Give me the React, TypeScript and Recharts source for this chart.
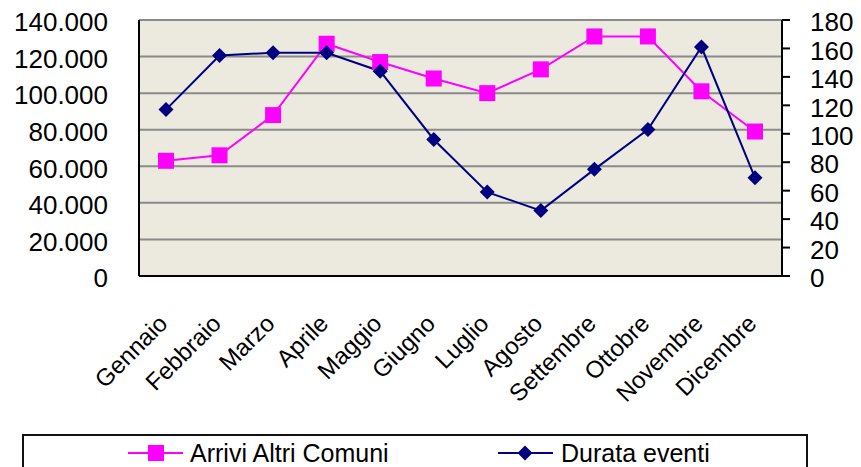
import React from 'react';
import { LineChart, Line, XAxis, YAxis, CartesianGrid, Legend } from 'recharts';

const months = [
  'Gennaio', 'Febbraio', 'Marzo', 'Aprile', 'Maggio', 'Giugno',
  'Luglio', 'Agosto', 'Settembre', 'Ottobre', 'Novembre', 'Dicembre',
];
const arriviAltriComuni = [63000, 66000, 88000, 127000, 117000, 108000, 100000, 113000, 131000, 131000, 101000, 79000];
const durataEventi = [117, 155, 157, 157, 144, 96, 59, 46, 75, 103, 161, 69];
const leftTicks = [0, 20000, 40000, 60000, 80000, 100000, 120000, 140000];
const rightTicks = [0, 20, 40, 60, 80, 100, 120, 140, 160, 180];

const PINK = '#FF00FF';
const NAVY = '#000080';
const FONT = '"Liberation Sans", Arial, sans-serif';

const chartData = months.map((month, i) => ({
  month,
  arrivi: arriviAltriComuni[i],
  durata: durataEventi[i],
}));

// thousands with a dot, as in the Italian original
const formatThousands = (v: number) => String(v).replace(/\B(?=(\d{3})+(?!\d))/g, '.');

const SquareDot = (props: any) => {
  const { cx, cy } = props;
  if (cx == null || cy == null) return null;
  return <rect x={cx - 8} y={cy - 8} width={16} height={16} fill={PINK} />;
};

const DiamondDot = (props: any) => {
  const { cx, cy } = props;
  if (cx == null || cy == null) return null;
  const r = 7.5;
  return <polygon points={`${cx},${cy - r} ${cx + r},${cy} ${cx},${cy + r} ${cx - r},${cy}`} fill={NAVY} />;
};

const ValueTick = (props: any) => {
  const { x, y, payload, textAnchor, formatter } = props;
  return (
    <text x={x} y={y + 2} dy="0.355em" textAnchor={textAnchor} fontSize={26} fontFamily={FONT} fill="#000">
      {formatter ? formatter(payload.value) : payload.value}
    </text>
  );
};

const MonthTick = (props: any) => {
  const { x, y, payload } = props;
  const tx = x + 3;
  const ty = y + 47;
  return (
    <text x={tx} y={ty} textAnchor="end" fontSize={24} fontFamily={FONT} fill="#000" transform={`rotate(-45, ${tx}, ${ty})`}>
      {payload.value}
    </text>
  );
};

const ChartLegend = () => (
  <svg width={786} height={50} style={{ display: 'block' }}>
    <rect x={1} y={1} width={784} height={60} fill="#fff" stroke="#111" strokeWidth={2} />
    <line x1={106} y1={19} x2={161} y2={19} stroke={PINK} strokeWidth={2} />
    <rect x={126} y={11} width={16} height={16} fill={PINK} />
    <text x={168} y={28} fontSize={25} fontFamily={FONT} fill="#000">Arrivi Altri Comuni</text>
    <line x1={476} y1={19} x2={531} y2={19} stroke={NAVY} strokeWidth={2} />
    <polygon points="503,11.5 510.5,19 503,26.5 495.5,19" fill={NAVY} />
    <text x={539} y={28} fontSize={25} fontFamily={FONT} fill="#000">Durata eventi</text>
  </svg>
);

export default function App() {
  return (
    <div style={{ position: 'absolute', left: 0, top: 0, width: 861, height: 467, overflow: 'hidden', background: '#fff' }}>
      <LineChart width={861} height={467} data={chartData} margin={{ top: 20, right: 0, bottom: 0, left: 0 }}>
        <CartesianGrid
          yAxisId="left"
          vertical={false}
          fill="#ECE9DF"
          fillOpacity={1}
          stroke="#8A8A8A"
          strokeWidth={2}
          horizontalCoordinatesGenerator={undefined}
        />
        <XAxis
          dataKey="month"
          interval={0}
          height={191}
          padding={{ left: 27, right: 27 }}
          axisLine={{ stroke: '#000', strokeWidth: 2 }}
          tickLine={false}
          tickSize={0}
          tick={<MonthTick />}
        />
        <YAxis
          yAxisId="left"
          orientation="left"
          width={139}
          domain={[0, 140000]}
          ticks={leftTicks}
          interval={0}
          axisLine={{ stroke: '#000', strokeWidth: 2 }}
          tickLine={false}
          tickSize={0}
          tickMargin={31}
          tick={<ValueTick formatter={formatThousands} />}
        />
        <YAxis
          yAxisId="right"
          orientation="right"
          width={79}
          domain={[0, 180]}
          ticks={rightTicks}
          interval={0}
          axisLine={{ stroke: '#000', strokeWidth: 2 }}
          tickLine={{ stroke: '#000', strokeWidth: 2 }}
          tickSize={8}
          tickMargin={20}
          tick={<ValueTick />}
        />
        <Line
          yAxisId="left"
          type="linear"
          dataKey="arrivi"
          name="Arrivi Altri Comuni"
          stroke={PINK}
          strokeWidth={2}
          dot={<SquareDot />}
          activeDot={false}
          isAnimationActive={false}
        />
        <Line
          yAxisId="right"
          type="linear"
          dataKey="durata"
          name="Durata eventi"
          stroke={NAVY}
          strokeWidth={2}
          dot={<DiamondDot />}
          activeDot={false}
          isAnimationActive={false}
        />
        <Legend
          layout="horizontal"
          verticalAlign="middle"
          content={() => <ChartLegend />}
          wrapperStyle={{ left: 22, top: 434, width: 786, height: 50 }}
        />
      </LineChart>
    </div>
  );
}
